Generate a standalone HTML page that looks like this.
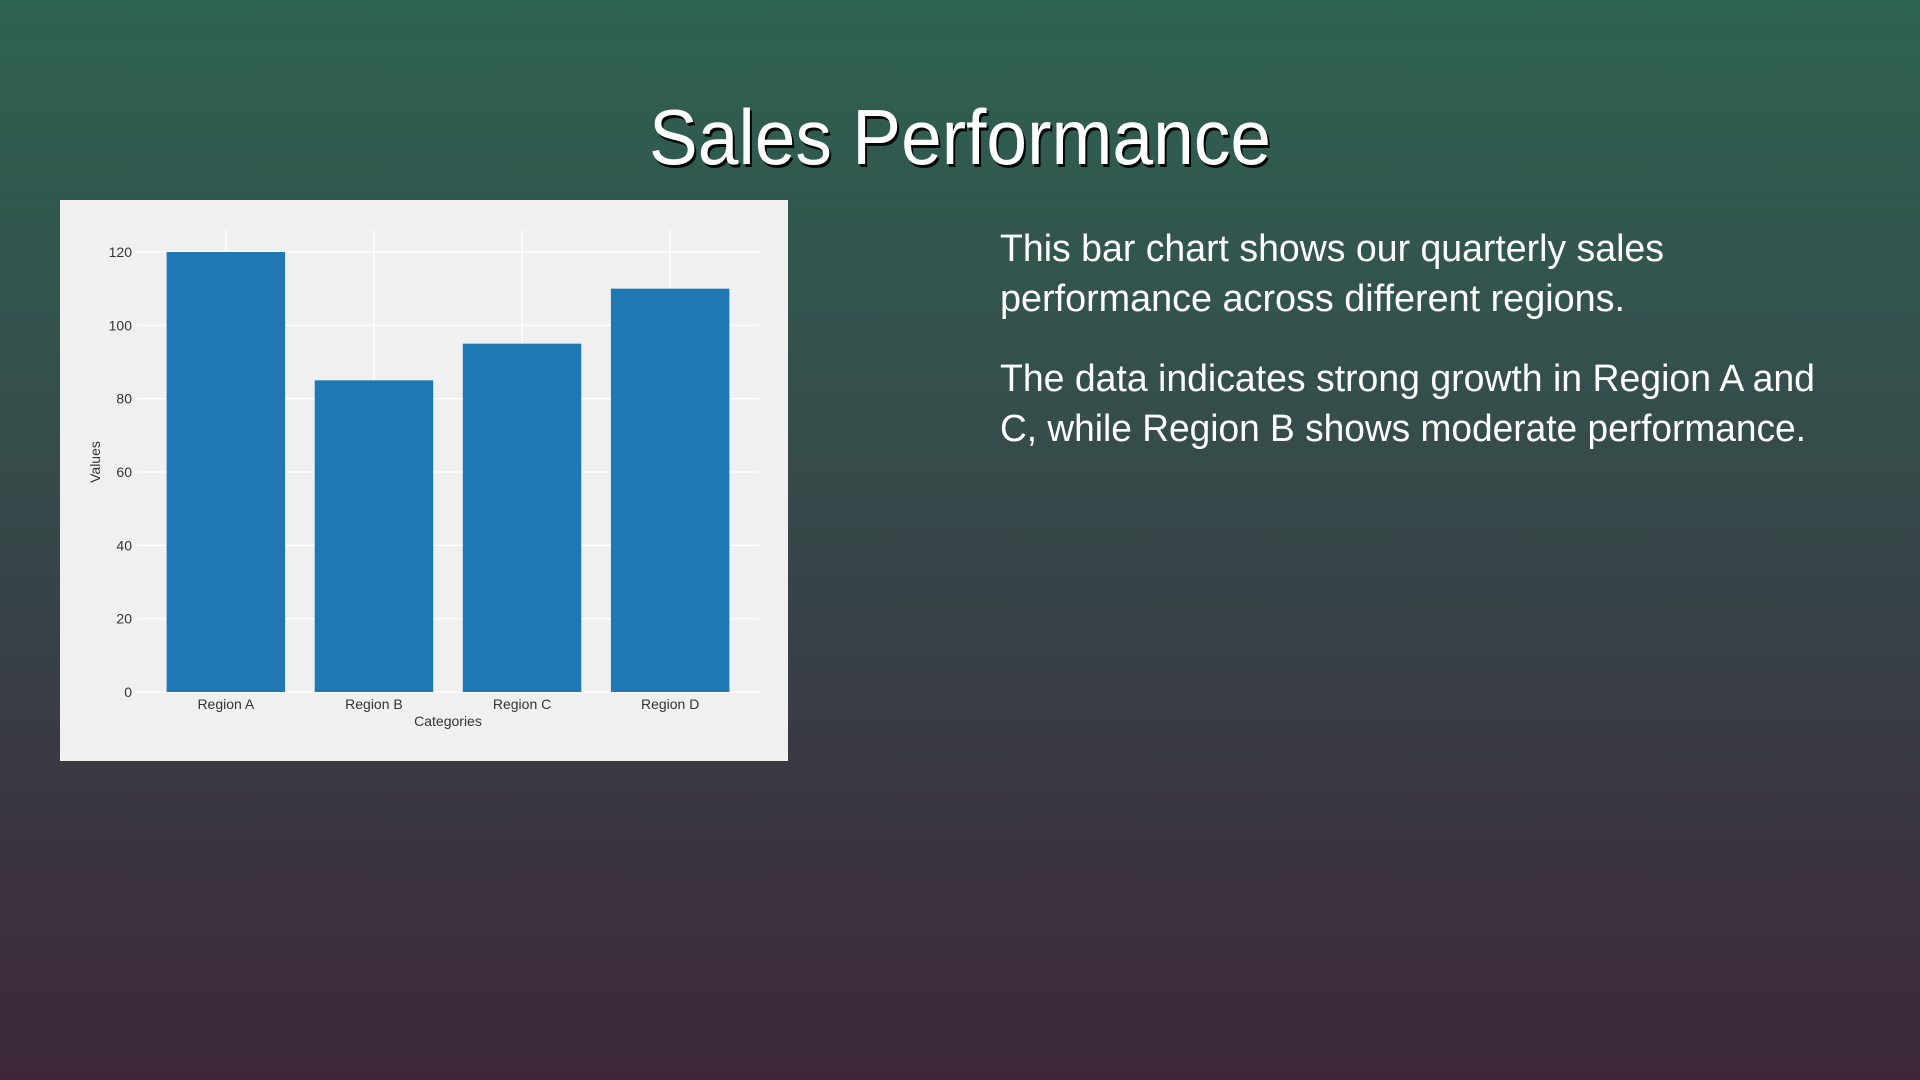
<!DOCTYPE html>
<html><head><meta charset="utf-8"><style>
html,body{margin:0;padding:0;width:1920px;height:1080px;overflow:hidden}
body{background:linear-gradient(to bottom,#2e6252 0%,#364a4a 45%,#3a3640 75%,#3d2838 100%);font-family:"Liberation Sans",sans-serif}
svg{position:absolute;left:0;top:0}
</style></head><body>
<svg width="1920" height="1080">
  <text x="962" y="167" text-anchor="middle" font-size="78" fill="#000" opacity="0.9" textLength="622" lengthAdjust="spacingAndGlyphs">Sales Performance</text>
  <text x="960" y="164" text-anchor="middle" font-size="78" fill="#fff" textLength="622" lengthAdjust="spacingAndGlyphs">Sales Performance</text>
  <g fill="#fff" font-size="38">
    <text x="1000" y="261" textLength="664" lengthAdjust="spacingAndGlyphs">This bar chart shows our quarterly sales</text>
    <text x="1000" y="311" textLength="625" lengthAdjust="spacingAndGlyphs">performance across different regions.</text>
    <text x="1000" y="391" textLength="815" lengthAdjust="spacingAndGlyphs">The data indicates strong growth in Region A and</text>
    <text x="1000" y="441" textLength="806" lengthAdjust="spacingAndGlyphs">C, while Region B shows moderate performance.</text>
  </g>
  <rect x="60" y="200" width="728" height="561" fill="#f0f0f0"/>
  <g id="chart"></g>
</svg>
<script>
const categories = ["Region A","Region B","Region C","Region D"];
const values = [120, 85, 95, 110];
const yTicks = [0,20,40,60,80,100,120];
const yMax = 126;
const ns = "http://www.w3.org/2000/svg";
const chartG = document.getElementById("chart");
const pLeft = 137, pRight = 759, pTop = 230, pBottom = 692;
const band = (pRight - pLeft) / (categories.length + 0.2);
function xScale(i){ return pLeft + (i + 0.6) * band; }
function yScale(v){ return pBottom - v / yMax * (pBottom - pTop); }
function mk(tag, attrs){ const e = document.createElementNS(ns, tag); for (const k in attrs) e.setAttribute(k, attrs[k]); chartG.appendChild(e); return e; }
yTicks.forEach(t => {
  const l = mk("line",{x1:pLeft,x2:pRight,y1:yScale(t),y2:yScale(t),stroke:"#fff","stroke-width":1.3});
  
  
  const tx = mk("text",{x:pLeft-5,y:yScale(t)+5,"text-anchor":"end","font-size":14,fill:"#333"});
  tx.textContent = t;
  
  
});
categories.forEach((c,i) => {
  const l = mk("line",{x1:xScale(i),x2:xScale(i),y1:pTop,y2:pBottom,stroke:"#fff","stroke-width":1.3});
  
  
});
categories.forEach((c,i) => {
  const w = band * 0.8;
  const r = mk("rect",{x:xScale(i)-w/2,y:yScale(values[i]),width:w,height:pBottom-yScale(values[i]),fill:"#1f77b4"});
  
  
  const tx = mk("text",{x:xScale(i),y:pBottom+17,"text-anchor":"middle","font-size":14,fill:"#333"});
  tx.textContent = c;
  
  
});
const xt = mk("text",{x:(pLeft+pRight)/2,y:726,"text-anchor":"middle","font-size":14,fill:"#333"});
xt.textContent = "Categories";


const yt = mk("text",{x:0,y:0,"text-anchor":"middle","font-size":14,fill:"#333",transform:"translate(100,462) rotate(-90)"});
yt.textContent = "Values";


</script>
</body></html>
